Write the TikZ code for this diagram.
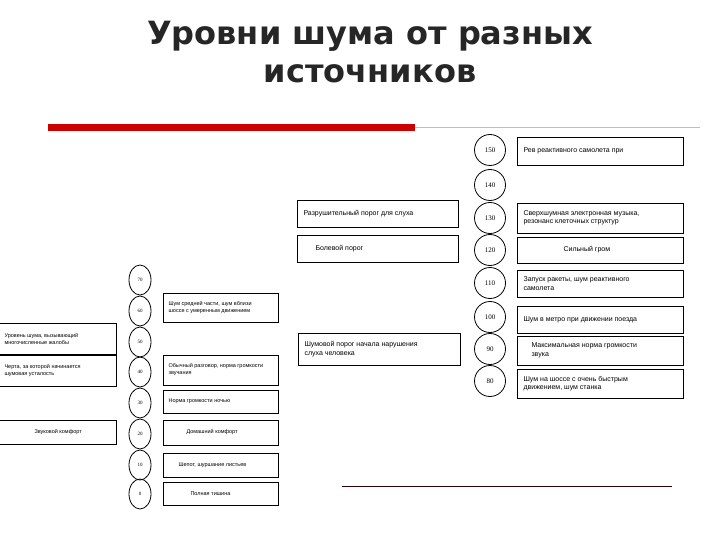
\documentclass[tikz,border=0pt]{standalone}
\usetikzlibrary{shapes.geometric}
\usepackage{fontspec}
\setmainfont{Liberation Sans}
\newfontfamily\titlefont{DejaVu Sans}
\newfontfamily\numfont{Liberation Serif}
\begin{document}
\begin{tikzpicture}[x=1pt,y=-1pt,
  circ/.style={draw,circle,line width=0.8pt,inner sep=0pt,font=\numfont\fontsize{7}{8}\selectfont},
  bigc/.style={circ,minimum size=31pt},
  smallc/.style={draw,ellipse,line width=0.8pt,inner sep=0pt,minimum width=22pt,minimum height=30pt,font=\numfont\fontsize{5}{6}\selectfont}]
\useasboundingbox (0,0) rectangle (720,540);
\fill[white] (0,0) rectangle (720,540);
% title
\node[text=black!85,font=\titlefont\bfseries\fontsize{32}{38}\selectfont,align=center] (title) at (370,52) {Уровни шума от разных\\источников};
\fill[red!80!black] (48,124) rectangle (415,131);
\draw[gray!50] (415,127) -- (700,127);
\draw[black!80!red,line width=1pt] (342,486) -- (672,486);
% right diagram circles
\foreach \v/\y in {150/150,140/185,130/218,120/250,110/283,100/317,90/349,80/381}
  \node[bigc] (c\v) at (490,\y) {\v};
% right boxes
\newcommand{\rbox}[5]{\draw[line width=0.8pt] (#1,#2) rectangle (#3,#4); \node[anchor=west,align=left,font=\fontsize{7}{8.5}\selectfont] (#5) at (#1+3,{(#2+#4)/2})}
\rbox{517}{137}{683}{165}{t150}{Рев реактивного самолета при};
\rbox{517}{203}{683}{233}{t130}{Сверхшумная электронная музыка,\\резонанс клеточных структур};
\rbox{517}{237}{683}{263}{t120}{\hspace{40pt}Сильный гром};
\rbox{517}{270}{683}{297}{t110}{Запуск ракеты, шум реактивного\\самолета};
\rbox{517}{306}{683}{333}{t100}{Шум в метро при движении поезда};
\rbox{517}{336}{683}{365}{t90}{\hspace{8pt}Максимальная норма громкости\\\hspace{8pt}звука};
\rbox{517}{369}{683}{398}{t80}{Шум на шоссе с очень быстрым\\движением, шум станка};
\rbox{297}{200}{458}{227}{tl130}{Разрушительный порог для слуха};
\rbox{297}{235}{458}{262}{tl120}{\hspace{12pt}Болевой порог};
\rbox{298}{333}{460}{365}{tl90}{Шумовой порог начала нарушения\\слуха человека};
% left diagram circles
\foreach \v/\y in {70/280,60/311,50/342,40/372,30/403,20/434,10/465,0/494}
  \node[smallc] (s\v) at (140,\y) {\v};
\newcommand{\sbx}[5]{\draw[line width=0.8pt] (#1,#2) rectangle (#3,#4); \node[anchor=west,align=left,font=\fontsize{5.5}{7}\selectfont] (#5) at (#1+2,{(#2+#4)/2})}
\sbx{163}{293}{278}{322}{u60}{Шум средней части, шум вблизи\\шоссе с умеренным движением};
\sbx{163}{355}{278}{385}{u40}{Обычный разговор, норма громкости\\звучания};
\sbx{163}{390}{278}{413}{u30}{Норма громкости ночью};
\sbx{163}{420}{278}{445}{u20}{\hspace{18pt}Домашний комфорт};
\sbx{163}{453}{278}{477}{u10}{\hspace{10pt}Шепот, шуршание листьев};
\sbx{163}{482}{278}{505}{u0}{\hspace{22pt}Полная тишина};
\sbx{-1}{323}{116}{354}{v1}{Уровень шума, вызывающий\\многочисленные жалобы};
\sbx{-1}{355}{116}{386}{v2}{Черта, за которой начинается\\шумовая усталость};
\sbx{-1}{420}{116}{444}{v3}{\hspace{30pt}Звуковой комфорт};
\end{tikzpicture}
\end{document}
